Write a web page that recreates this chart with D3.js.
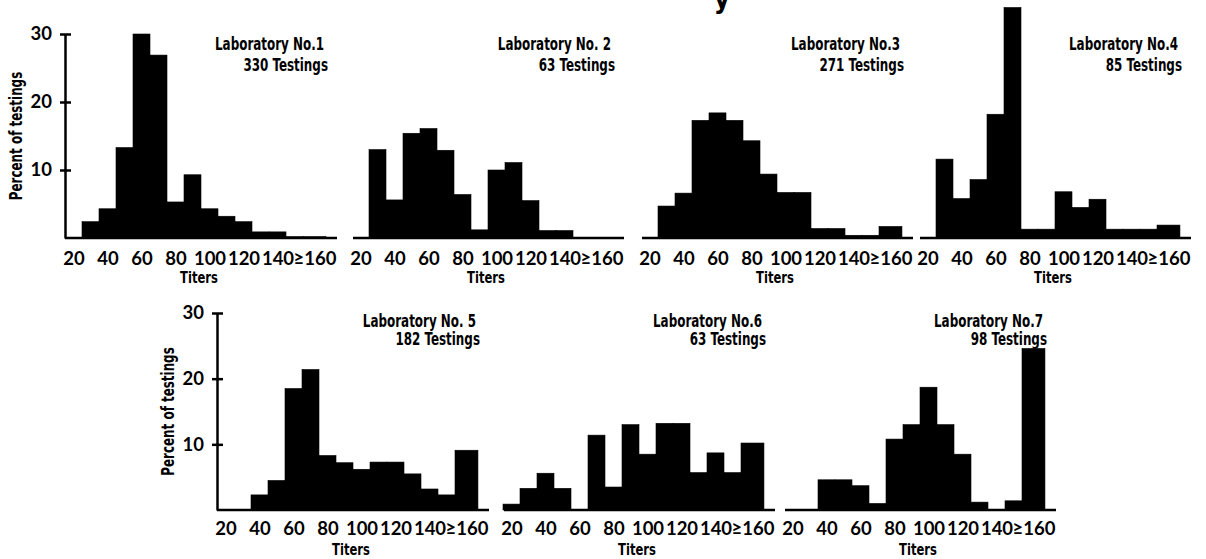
<!DOCTYPE html>
<html>
<head>
<meta charset="utf-8">
<script src="https://cdn.jsdelivr.net/npm/d3@7"></script>
<style>
  html, body { margin: 0; padding: 0; background: #fff; }
  svg { display: block; }
  .cond { font-family: "Liberation Sans Narrow", "DejaVu Sans Condensed", "DejaVu Sans", sans-serif; font-weight: bold; fill: #000; }
  .num { font-family: Lato, "Noto Sans", sans-serif; font-weight: 700; fill: #000; }
</style>
</head>
<body>
<div id="grafica"></div>
<script>
// titer bins (20 ... >=160, steps of 10)
const bins = [20, 30, 40, 50, 60, 70, 80, 90, 100, 110, 120, 130, 140, 150, 160];
const tickLabels = ["20", "40", "60", "80", "100", "120", "140", "≥160"];
const yTicks = [10, 20, 30];

const labNames = ["Laboratory No.1", "Laboratory No. 2", "Laboratory No.3", "Laboratory No.4",
                  "Laboratory No. 5", "Laboratory No.6", "Laboratory No.7"];
const labTestings = ["330 Testings", "63 Testings", "271 Testings", "85 Testings",
                     "182 Testings", "63 Testings", "98 Testings"];

// percent of testings in each bin
const lab1 = [0, 2.4, 4.3, 13.3, 30, 26.9, 5.3, 9.3, 4.3, 3.2, 2.4, 0.9, 0.9, 0.2, 0.2];
const lab2 = [0, 13.0, 5.6, 15.4, 16.1, 12.9, 6.4, 1.2, 10.0, 11.1, 5.5, 1.1, 1.1, 0, 0];
const lab3 = [0, 4.7, 6.6, 17.3, 18.4, 17.3, 14.3, 9.4, 6.7, 6.7, 1.4, 1.4, 0.4, 0.4, 1.7];
const lab4 = [0, 11.6, 5.8, 8.6, 18.2, 33.9, 1.3, 1.3, 6.8, 4.5, 5.7, 1.3, 1.3, 1.3, 1.9];
const lab5 = [0, 0, 2.3, 4.5, 18.5, 21.4, 8.3, 7.2, 6.2, 7.3, 7.3, 5.5, 3.2, 2.3, 9.1];
const lab6 = [0.9, 3.3, 5.6, 3.3, 0, 11.4, 3.5, 13.0, 8.5, 13.2, 13.2, 5.7, 8.7, 5.7, 10.2];
const lab7 = [0, 0, 4.6, 4.6, 3.7, 1.0, 10.8, 13.0, 18.7, 13.0, 8.5, 1.2, 0, 1.4, 24.6];

const labValues = [lab1, lab2, lab3, lab4, lab5, lab6, lab7];

// layout
const width = 1206;
const height = 559;
const rows = [
  { base: 238, top: 34, title1: 50, title2: 71, labelDy: 27, titersDy: 45 },
  { base: 510, top: 313, title1: 327, title2: 345, labelDy: 25, titersDy: 44.5 }
];
const panels = [
  { x0: 65, row: 0, axis: true },
  { x0: 352, row: 0 },
  { x0: 641, row: 0 },
  { x0: 919, row: 0 },
  { x0: 217, row: 1, axis: true },
  { x0: 503, row: 1 },
  { x0: 784, row: 1 }
];
const pxPerTiter = 1.7;
const lastBinEnd = 168.5;   // the open ">=160" bin is drawn wider
const axisEnd = 175;
const squeeze = 0.78;       // the original type is a narrow grotesque

const svg = d3.select("#grafica").append("svg")
  .attr("width", width)
  .attr("height", height);

// bin edges in titer units
function binLo(i) { return bins[i] - 5; }
function binHi(i) { return i === bins.length - 1 ? lastBinEnd : bins[i] + 5; }

// narrow text, drawn at (x, y), optional rotation
function narrowText(parent, x, y, txt, size, anchor, rot) {
  return parent.append("text")
    .attr("class", "cond")
    .attr("transform", `translate(${x}, ${y})` + (rot ? ` rotate(${rot})` : "") + ` scale(${squeeze}, 1)`)
    .attr("text-anchor", anchor)
    .style("font-size", size + "px")
    .text(txt);
}

panels.forEach(function (p, k) {
  const row = rows[p.row];
  const values = labValues[k];

  const x = d3.scaleLinear()
    .domain([15, axisEnd])
    .range([p.x0, p.x0 + (axisEnd - 15) * pxPerTiter]);

  const y = d3.scaleLinear()
    .domain([0, 30])
    .range([row.base, row.top]);

  const g = svg.append("g").attr("class", "panel");

  // bars
  g.selectAll("rect")
    .data(values).enter()
    .append("rect")
    .attr("x", (d, i) => x(binLo(i)))
    .attr("width", (d, i) => x(binHi(i)) - x(binLo(i)))
    .attr("y", d => y(d))
    .attr("height", d => y(0) - y(d))
    .attr("fill", "#000")
    .attr("stroke", "#000")
    .attr("stroke-width", 0.6);

  // baseline
  g.append("line")
    .attr("x1", x(15) + (p.axis ? 0 : 1))
    .attr("x2", x(axisEnd))
    .attr("y1", y(0))
    .attr("y2", y(0))
    .attr("stroke", "#000")
    .attr("stroke-width", 2.5);

  // x tick labels at bin centres (every other bin)
  const tickBins = d3.range(0, bins.length, 2);
  const xAxis = d3.axisBottom(x)
    .tickValues(tickBins.map(i => (binLo(i) + binHi(i)) / 2))
    .tickFormat((d, j) => tickLabels[j])
    .tickSize(0)
    .tickPadding(0);

  const ax = g.append("g")
    .attr("transform", `translate(0, ${row.base})`)
    .call(xAxis);
  ax.select(".domain").remove();
  ax.selectAll("text")
    .attr("class", "num")
    .attr("dy", null)
    .attr("y", row.labelDy)
    .style("font-size", "18.5px");

  narrowText(g, p.x0 + 134, row.base + row.titersDy, "Titers", 16.5, "middle");

  // titles
  narrowText(g, p.x0 + 259, row.title1, labNames[k], 17, "end");
  narrowText(g, p.x0 + 263, row.title2, labTestings[k], 17, "end");

  // left y axis only on the first panel of each row
  if (p.axis) {
    const yAxis = d3.axisLeft(y)
      .tickValues(yTicks)
      .tickSizeInner(-6)
      .tickSizeOuter(0)
      .tickPadding(13);

    const ay = g.append("g")
      .attr("transform", `translate(${p.x0}, 0)`)
      .call(yAxis);
    ay.select(".domain")
      .attr("stroke", "#000")
      .attr("stroke-width", 2.5);
    ay.selectAll(".tick line")
      .attr("x1", -5)
      .attr("stroke", "#000")
      .attr("stroke-width", 2.5);
    ay.selectAll(".tick text")
      .attr("class", "num")
      .attr("x", -13)
      .style("font-size", "18.5px");

    narrowText(g, p.x0 - 43, (row.base + row.top) / 2, "Percent of testings", 17, "middle", -90);
  }
});

// bottom of a cut-off heading at the top edge
svg.append("text")
  .attr("class", "cond")
  .attr("x", 722)
  .attr("y", 8)
  .attr("text-anchor", "middle")
  .style("font-size", "28px")
  .text("y");
</script>
</body>
</html>
